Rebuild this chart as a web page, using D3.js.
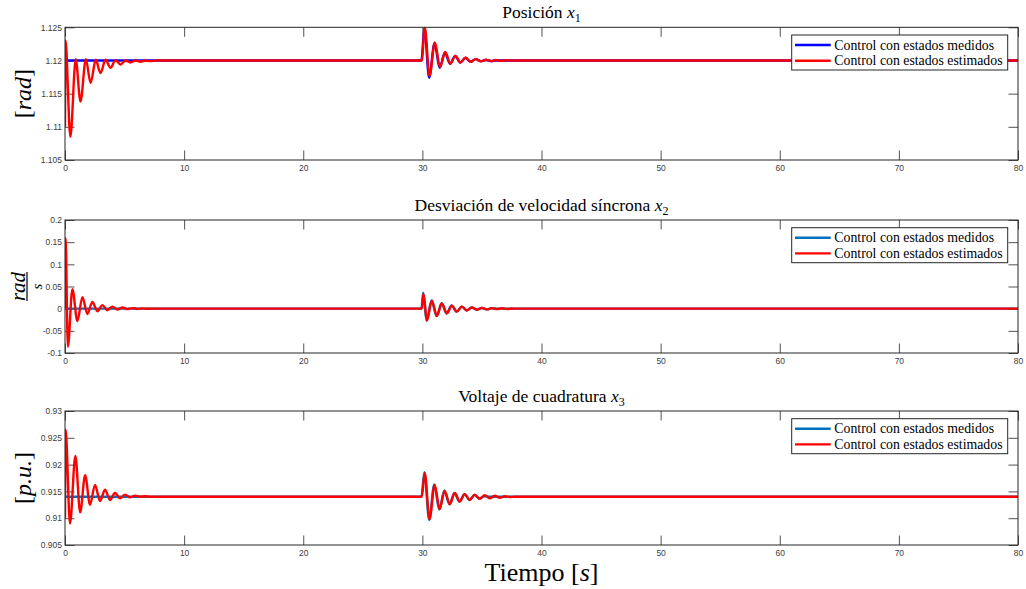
<!DOCTYPE html>
<html>
<head>
<meta charset="utf-8">
<script src="https://cdn.jsdelivr.net/npm/d3@7"></script>
<style>
  html, body { margin: 0; padding: 0; background: #fff; }
  svg { display: block; }
</style>
</head>
<body>
<svg id="chart" width="1026" height="589"></svg>
<script>
// Simulation results: time [s] and state value, sampled at the turning points of each response.
const xTicks = [0, 10, 20, 30, 40, 50, 60, 70, 80];
const yTicksPos = [1.105, 1.11, 1.115, 1.12, 1.125];
const yTicksVel = [-0.1, -0.05, 0, 0.05, 0.1, 0.15, 0.2];
const yTicksVolt = [0.905, 0.91, 0.915, 0.92, 0.925, 0.93];
const seriesNames = ["Control con estados medidos", "Control con estados estimados"];

// x1: rotor angle
const posMedidos = [
  [0, 1.12], [29.92, 1.12], [30.17, 1.1249], [30.57, 1.1174], [31.02, 1.1226], [31.45, 1.1189],
  [31.89, 1.1212], [32.32, 1.1195], [32.75, 1.1207], [33.18, 1.1197], [33.61, 1.1204],
  [34.04, 1.1198], [34.47, 1.1202], [34.9, 1.1199], [35.33, 1.12008], [35.76, 1.11993],
  [36.2, 1.12], [80, 1.12]
];
const posEstimados = [
  [0, 1.110], [0.04, 1.123], [0.45, 1.1085], [0.9, 1.1202], [1.3, 1.1138], [1.75, 1.1202],
  [2.15, 1.1166], [2.58, 1.1201], [2.98, 1.1181], [3.4, 1.1201], [3.82, 1.1189], [4.24, 1.12005],
  [4.66, 1.1194], [5.08, 1.12], [5.5, 1.1197], [5.92, 1.12], [6.34, 1.1198], [6.76, 1.12],
  [7.2, 1.1199], [7.6, 1.12], [29.95, 1.12], [30.2, 1.125], [30.6, 1.1177], [31.05, 1.1227],
  [31.48, 1.119], [31.92, 1.1213], [32.35, 1.1195], [32.78, 1.1207], [33.2, 1.1197],
  [33.63, 1.1204], [34.05, 1.1198], [34.48, 1.1202], [34.9, 1.11988], [35.33, 1.12012],
  [35.75, 1.1199], [36.17, 1.12008], [36.6, 1.11993], [37.02, 1.12004], [37.45, 1.11997],
  [37.9, 1.12], [80, 1.12]
];

// x2: synchronous speed deviation
const velMedidos = [
  [0, 0], [29.92, 0], [30.07, 0.036], [30.35, -0.0275], [30.77, 0.0185], [31.19, -0.0168],
  [31.61, 0.0122], [32.03, -0.0107], [32.45, 0.007], [32.87, -0.0066], [33.3, 0.0046],
  [33.72, -0.004], [34.14, 0.0028], [34.56, -0.0024], [35.0, 0.0016], [35.4, -0.0013],
  [35.8, 0.0008], [36.3, 0], [80, 0]
];
const velEstimados = [
  [0, 0], [0.05, 0.159], [0.24, -0.086], [0.62, 0.044], [1.04, -0.028], [1.46, 0.026],
  [1.88, -0.012], [2.3, 0.015], [2.72, -0.006], [3.14, 0.008], [3.56, -0.0035], [3.98, 0.0045],
  [4.4, -0.002], [4.82, 0.0025], [5.24, -0.001], [5.66, 0.0013], [6.08, -0.0006], [6.5, 0.0006],
  [6.9, -0.0003], [7.3, 0], [29.95, 0], [30.1, 0.034], [30.38, -0.027], [30.8, 0.018],
  [31.22, -0.0165], [31.64, 0.012], [32.06, -0.0105], [32.48, 0.0068], [32.9, -0.0065],
  [33.32, 0.0045], [33.74, -0.004], [34.16, 0.0028], [34.58, -0.0024], [35.0, 0.0018],
  [35.42, -0.0016], [35.84, 0.0012], [36.26, -0.0011], [36.68, 0.0008], [37.1, -0.0006],
  [37.52, 0.0003], [37.9, 0], [80, 0]
];

// x3: quadrature-axis voltage
const voltMedidos = [
  [0, 0.914], [29.92, 0.914], [30.17, 0.9186], [30.57, 0.9097], [31.0, 0.9163], [31.42, 0.9116],
  [31.84, 0.9152], [32.27, 0.9126], [32.69, 0.9147], [33.11, 0.9131], [33.53, 0.9145],
  [33.95, 0.9134], [34.37, 0.9143], [34.8, 0.9137], [35.2, 0.9141], [35.7, 0.914], [80, 0.914]
];
const voltEstimados = [
  [0, 0.910], [0.05, 0.9265], [0.42, 0.909], [0.87, 0.9216], [1.27, 0.9111], [1.69, 0.918],
  [2.1, 0.9125], [2.52, 0.9162], [2.94, 0.9132], [3.36, 0.9153], [3.78, 0.9134], [4.2, 0.9147],
  [4.62, 0.9137], [5.04, 0.9144], [5.46, 0.9139], [5.88, 0.9142], [6.3, 0.914], [6.72, 0.9141],
  [7.14, 0.914], [29.95, 0.914], [30.2, 0.9184], [30.6, 0.9098], [31.03, 0.9162],
  [31.45, 0.9117], [31.87, 0.9151], [32.3, 0.9126], [32.72, 0.9147], [33.14, 0.9131],
  [33.56, 0.9145], [33.98, 0.9134], [34.4, 0.9144], [34.82, 0.9136], [35.24, 0.9143],
  [35.66, 0.9137], [36.08, 0.9142], [36.5, 0.9138], [36.92, 0.9141], [37.35, 0.91395],
  [37.8, 0.914], [80, 0.914]
];

// ---- layout ----
const W = 1026, H = 589;
const left = 65, right = 1018;
const axisColor = "#262626";
const serif = "'Liberation Serif', 'Times New Roman', serif";
const sans = "'Liberation Sans', Arial, Helvetica, sans-serif";
const red = "#ff0000";
const lineW = 2.4;
const tickLen = 9.5;

const panels = [
  { top: 27.3, bottom: 160, domain: [1.105, 1.125], ticks: yTicksPos,
    title: "Posición ", sub: "1", titleY: 18,
    measured: posMedidos, estimated: posEstimados, blue: "#0000ff", ylab: "rad" },
  { top: 220, bottom: 353, domain: [-0.1, 0.2], ticks: yTicksVel,
    title: "Desviación de velocidad síncrona ", sub: "2", titleY: 210.7,
    measured: velMedidos, estimated: velEstimados, blue: "#0072bd", ylab: "frac" },
  { top: 411, bottom: 545, domain: [0.905, 0.93], ticks: yTicksVolt,
    title: "Voltaje de cuadratura ", sub: "3", titleY: 401.5,
    measured: voltMedidos, estimated: voltEstimados, blue: "#0072bd", ylab: "pu" }
];

const svg = d3.select("#chart");
svg.append("rect").attr("width", W).attr("height", H).attr("fill", "#fff");

const x = d3.scaleLinear().domain([0, 80]).range([left, right]);
const fmt = d => String(d);

panels.forEach((p, i) => {
  const y = d3.scaleLinear().domain(p.domain).range([p.bottom, p.top]);
  const g = svg.append("g");

  // clip region for the data lines
  const clipId = "clip" + i;
  svg.append("defs").append("clipPath").attr("id", clipId)
    .append("rect").attr("x", left).attr("y", p.top)
    .attr("width", right - left).attr("height", p.bottom - p.top);

  // axes, ticks pointing inward on all four sides
  const styleAxis = sel => {
    sel.select(".domain").remove();
    sel.selectAll(".tick line").attr("stroke", axisColor).attr("stroke-width", 0.8);
    sel.selectAll(".tick text").attr("fill", "#404040")
      .style("font-family", sans).style("font-size", "8.5px");
  };
  g.append("g").attr("transform", `translate(0,${p.bottom})`)
    .call(d3.axisBottom(x).tickValues(xTicks).tickFormat(fmt)
      .tickSizeInner(-tickLen).tickSizeOuter(0).tickPadding(5))
    .call(styleAxis);
  g.append("g").attr("transform", `translate(0,${p.top})`)
    .call(d3.axisTop(x).tickValues(xTicks).tickFormat("")
      .tickSizeInner(-tickLen).tickSizeOuter(0))
    .call(styleAxis);
  g.append("g").attr("transform", `translate(${left},0)`)
    .call(d3.axisLeft(y).tickValues(p.ticks).tickFormat(fmt)
      .tickSizeInner(-tickLen).tickSizeOuter(0).tickPadding(3))
    .call(styleAxis);
  g.append("g").attr("transform", `translate(${right},0)`)
    .call(d3.axisRight(y).tickValues(p.ticks).tickFormat("")
      .tickSizeInner(-tickLen).tickSizeOuter(0))
    .call(styleAxis);

  // data lines
  const line = d3.line().x(d => x(d[0])).y(d => y(d[1])).curve(d3.curveMonotoneX);
  const plot = g.append("g").attr("clip-path", `url(#${clipId})`);
  plot.append("path").datum(p.measured).attr("d", line)
    .attr("fill", "none").attr("stroke", p.blue).attr("stroke-width", lineW)
    .attr("stroke-linejoin", "round");
  plot.append("path").datum(p.estimated).attr("d", line)
    .attr("fill", "none").attr("stroke", red).attr("stroke-width", lineW)
    .attr("stroke-linejoin", "round");

  // box
  g.append("rect").attr("x", left).attr("y", p.top)
    .attr("width", right - left).attr("height", p.bottom - p.top)
    .attr("fill", "none").attr("stroke", axisColor).attr("stroke-width", 1);

  // title
  const t = g.append("text").attr("x", (left + right) / 2).attr("y", p.titleY)
    .attr("text-anchor", "middle").style("font-family", serif).style("font-size", "17.5px")
    .attr("fill", "#000");
  t.append("tspan").text(p.title);
  t.append("tspan").attr("font-style", "italic").text("x");
  t.append("tspan").attr("dy", 4).style("font-size", "12px").text(p.sub);

  // legend
  const lx = 791.7, ly = p.top + 7.7, lw = 216, lh = 35;
  const lg = g.append("g");
  lg.append("rect").attr("x", lx).attr("y", ly).attr("width", lw).attr("height", lh)
    .attr("fill", "#fff").attr("stroke", axisColor).attr("stroke-width", 1);
  [p.blue, red].forEach((c, k) => {
    const cy = ly + 10 + k * 15.7;
    lg.append("line").attr("x1", lx + 3.3).attr("x2", lx + 39).attr("y1", cy).attr("y2", cy)
      .attr("stroke", c).attr("stroke-width", lineW);
    lg.append("text").attr("x", lx + 42.6).attr("y", cy + 4.6)
      .style("font-family", serif).style("font-size", "13.8px").attr("fill", "#000")
      .text(seriesNames[k]);
  });

  // y label
  const cy = (p.top + p.bottom) / 2;
  if (p.ylab === "rad" || p.ylab === "pu") {
    const yl = g.append("text")
      .attr("transform", `translate(31,${cy}) rotate(-90)`)
      .attr("text-anchor", "middle").style("font-family", serif).style("font-size", "24px")
      .attr("fill", "#000");
    yl.append("tspan").text("[");
    yl.append("tspan").attr("font-style", "italic").text(p.ylab === "rad" ? "rad" : "p.u.");
    yl.append("tspan").text("]");
  } else {
    const fg = g.append("g").attr("transform", `translate(27,${cy}) rotate(-90)`);
    fg.append("text").attr("x", 0).attr("y", -2.5).attr("text-anchor", "middle")
      .style("font-family", serif).style("font-size", "21px").attr("font-style", "italic")
      .attr("fill", "#000").text("rad");
    fg.append("line").attr("x1", -14.5).attr("x2", 14.5).attr("y1", 0).attr("y2", 0)
      .attr("stroke", "#000").attr("stroke-width", 1.2);
    fg.append("text").attr("x", 0).attr("y", 14.5).attr("text-anchor", "middle")
      .style("font-family", serif).style("font-size", "15px").attr("font-style", "italic")
      .attr("fill", "#000").text("s");
  }
});

// x label
const xl = svg.append("text").attr("x", (left + right) / 2).attr("y", 581)
  .attr("text-anchor", "middle").style("font-family", serif).style("font-size", "26px")
  .attr("fill", "#000");
xl.append("tspan").text("Tiempo [");
xl.append("tspan").attr("font-style", "italic").text("s");
xl.append("tspan").text("]");
</script>
</body>
</html>
